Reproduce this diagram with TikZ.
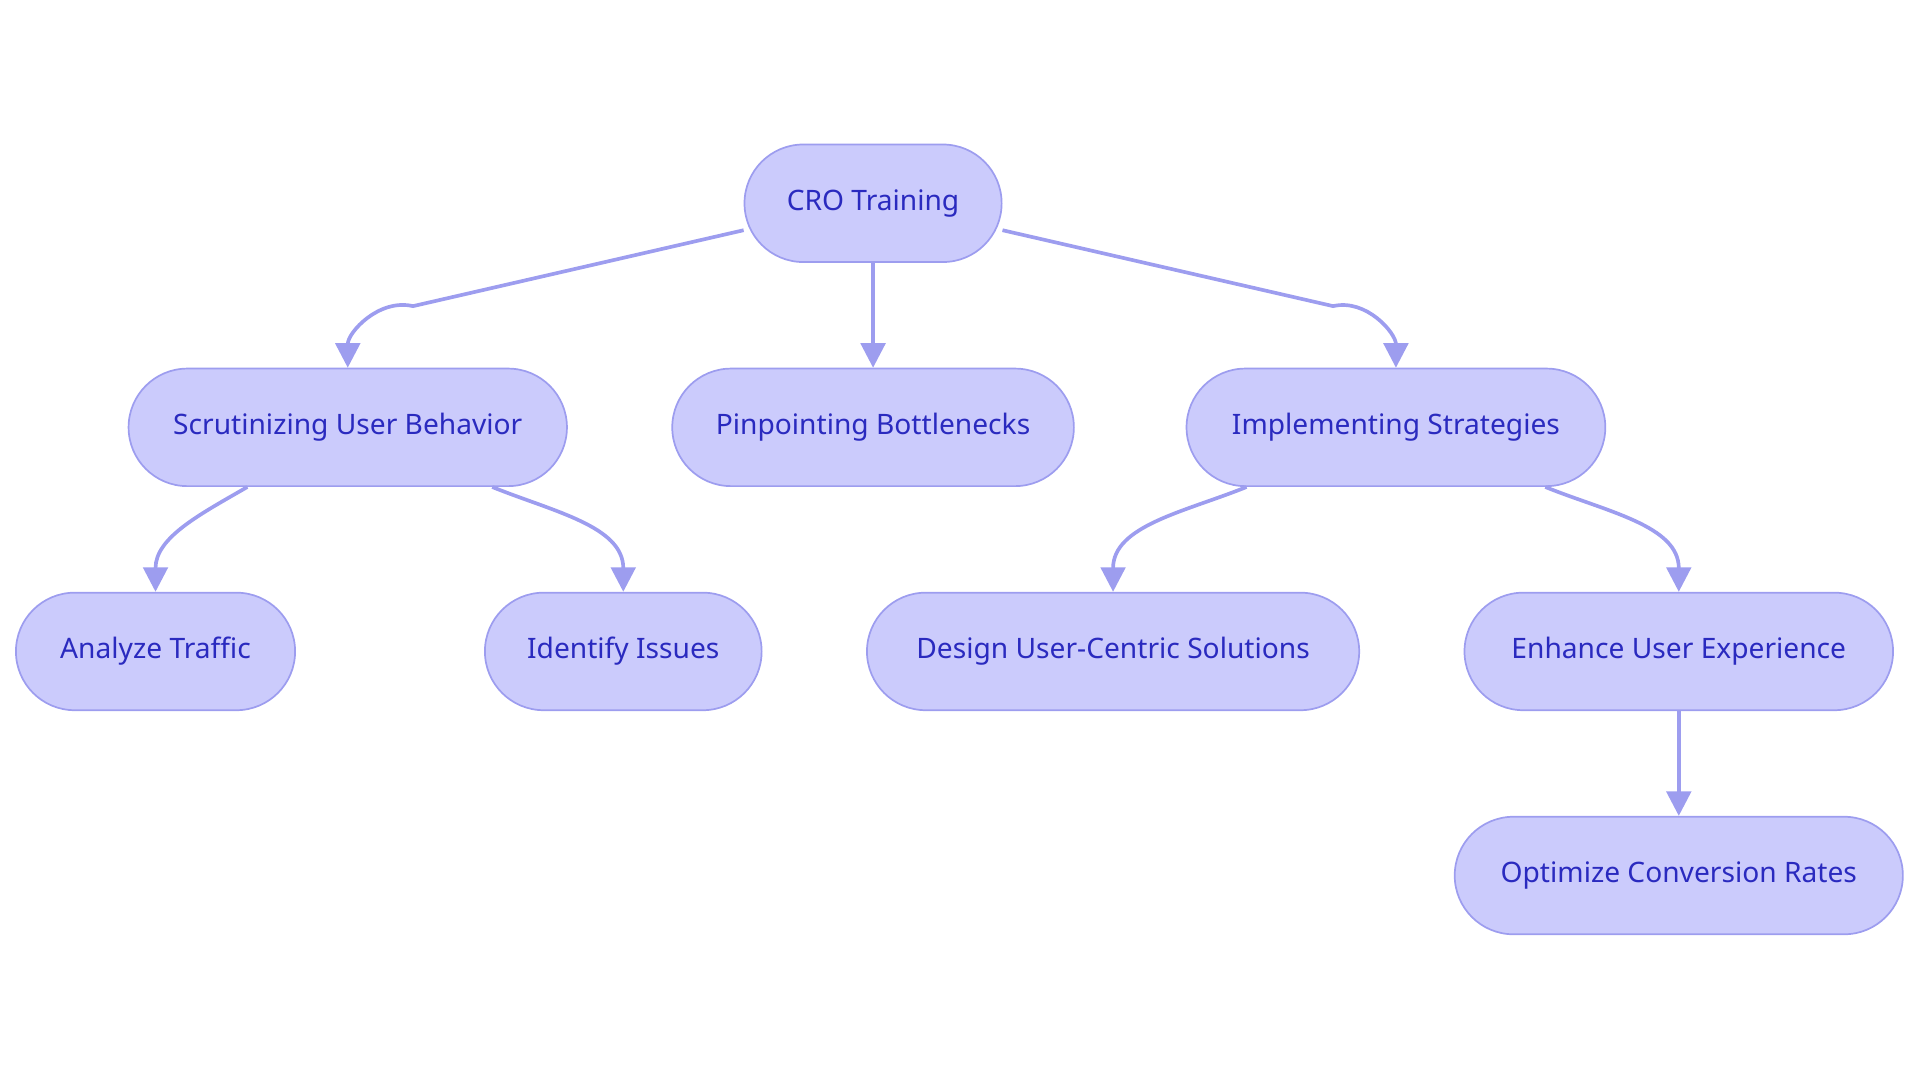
\documentclass[tikz,border=0pt]{standalone}
\usepackage{fontspec}
\setmainfont{Noto Sans}
\usetikzlibrary{calc,arrows.meta}
\definecolor{nfill}{HTML}{CBCBFC}
\definecolor{nline}{HTML}{9D9DEF}
\definecolor{ntext}{HTML}{2A2ABF}
\begin{document}
\begin{tikzpicture}[x=0.5pt,y=-0.5pt,
  box/.style={draw=nline,line width=0.7pt,fill=nfill,rounded corners=24pt,minimum height=48pt,text=ntext,font=\fontsize{11.5pt}{13pt}\selectfont,inner sep=0pt},
  conn/.style={draw=nline,line width=1.5pt,-{Triangle[length=10pt,width=10pt]}}]
\useasboundingbox (0,0) rectangle (1568,884);
\node[box,minimum width=105pt] (cro) at (713,166) {CRO Training};
\node[box,minimum width=179pt] (scr) at (284,349) {Scrutinizing User Behavior};
\node[box,minimum width=164pt] (pin) at (713,349) {Pinpointing Bottlenecks};
\node[box,minimum width=171pt] (imp) at (1140,349) {Implementing Strategies};
\node[box,minimum width=114pt] (ana) at (127,532) {Analyze Traffic};
\node[box,minimum width=113pt] (ide) at (509,532) {Identify Issues};
\node[box,minimum width=201pt] (des) at (909,532) {Design User-Centric Solutions};
\node[box,minimum width=175pt] (enh) at (1371,532) {Enhance User Experience};
\node[box,minimum width=183pt] (opt) at (1371,715) {Optimize Conversion Rates};
\coordinate (c1) at ($(cro.west)+(0,22)$);
\coordinate (c2) at ($(cro.east)+(0,22)$);
\draw[conn] (c1) -- ($(c1)+(-270,62)$) to[out=167,in=90] (scr.north);
\draw[conn] (cro) -- (pin);
\draw[conn] (c2) -- ($(c2)+(270,62)$) to[out=13,in=90] (imp.north);
\coordinate (s1) at ($(scr.south)+(-82,0)$);
\coordinate (s2) at ($(scr.south)+(118,0)$);
\coordinate (i1) at ($(imp.south)+(-122,0)$);
\coordinate (i2) at ($(imp.south)+(122,0)$);
\draw[conn] (s1) to[out=210,in=90] (ana.north);
\draw[conn] (s2) to[out=-22,in=90] (ide.north);
\draw[conn] (i1) to[out=202,in=90] (des.north);
\draw[conn] (i2) to[out=-22,in=90] (enh.north);
\draw[conn] (enh) -- (opt);
\end{tikzpicture}
\end{document}
